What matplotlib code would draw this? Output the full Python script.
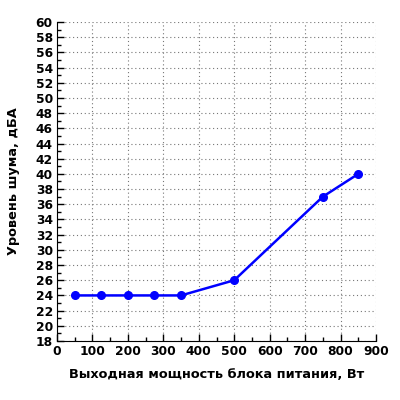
import matplotlib
matplotlib.use("Agg")
import matplotlib.pyplot as plt
from matplotlib.ticker import MultipleLocator

# data
power_w = [50, 125, 200, 275, 350, 500, 750, 850]
noise_dba = [24, 24, 24, 24, 24, 26, 37, 40]

fig = plt.figure(figsize=(4, 4), dpi=100)
ax = fig.add_axes([0.1425, 0.1475, 0.7975, 0.7975])

ax.plot(power_w, noise_dba, color="#0000ff", lw=1.8, marker="o", ms=5.5,
        markerfacecolor="#0000ff", markeredgecolor="#0000ff", zorder=5, clip_on=False)

ax.set_xlim(0, 900)
ax.set_ylim(18, 60)
ax.xaxis.set_major_locator(MultipleLocator(100))
ax.xaxis.set_minor_locator(MultipleLocator(50))
ax.yaxis.set_major_locator(MultipleLocator(2))
ax.yaxis.set_minor_locator(MultipleLocator(1))

ax.grid(True, which="major", color="#777777", linestyle=(0, (1, 2.5)), lw=0.8)
ax.spines["top"].set_visible(False)
ax.spines["right"].set_visible(False)
ax.tick_params(which="both", direction="in", width=1, colors="black", pad=3)
ax.tick_params(which="major", length=5)
ax.tick_params(which="minor", length=3)
ax.tick_params(axis="both", labelsize=8.8)
for lbl in ax.get_xticklabels() + ax.get_yticklabels():
    lbl.set_fontweight("bold")

ax.set_xlabel("Выходная мощность блока питания, Вт", fontsize=9.3, fontweight="bold", labelpad=7)
ax.set_ylabel("Уровень шума, дБА", fontsize=9.3, fontweight="bold", labelpad=11)

fig.savefig("out.png", dpi=100)
